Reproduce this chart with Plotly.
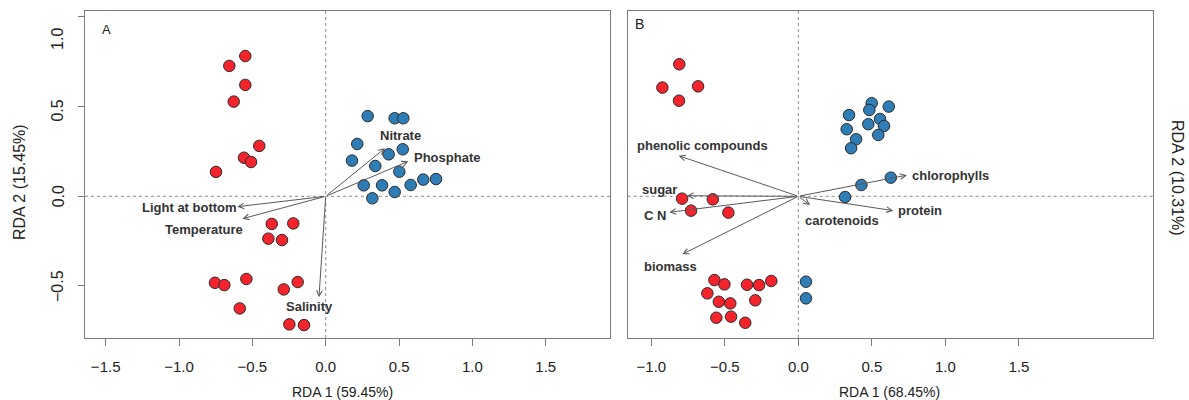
import plotly.graph_objects as go

# ---------------- Panel A: site scores and environmental vectors ----------------
a_red_x = [-0.548, -0.657, -0.548, -0.627, -0.453, -0.557, -0.509, -0.748,
           -0.368, -0.221, -0.391, -0.298, -0.755, -0.691, -0.541, -0.191,
           -0.286, -0.586, -0.248, -0.148]
a_red_y = [0.782, 0.727, 0.621, 0.528, 0.281, 0.215, 0.191, 0.136,
           -0.154, -0.151, -0.236, -0.244, -0.482, -0.495, -0.461, -0.478,
           -0.519, -0.625, -0.714, -0.718]
a_blue_x = [0.286, 0.470, 0.529, 0.215, 0.179, 0.525, 0.429, 0.338,
            0.502, 0.259, 0.384, 0.470, 0.579, 0.665, 0.752, 0.318]
a_blue_y = [0.447, 0.435, 0.435, 0.292, 0.199, 0.262, 0.234, 0.169,
            0.137, 0.061, 0.061, 0.024, 0.063, 0.093, 0.096, -0.011]
a_vec_names = ["Nitrate", "Phosphate", "Light at bottom", "Temperature", "Salinity"]
a_vec_x = [0.404, 0.563, -0.603, -0.568, -0.046]
a_vec_y = [0.268, 0.195, -0.058, -0.125, -0.563]

# ---------------- Panel B: site scores and biochemical vectors ----------------
b_red_x = [-0.810, -0.925, -0.682, -0.812, -0.791, -0.582, -0.730, -0.476,
           -0.571, -0.503, -0.349, -0.267, -0.184, -0.619, -0.541, -0.463,
           -0.293, -0.558, -0.458, -0.361]
b_red_y = [0.736, 0.606, 0.613, 0.533, -0.013, -0.017, -0.080, -0.091,
           -0.467, -0.491, -0.493, -0.495, -0.472, -0.541, -0.588, -0.597,
           -0.580, -0.677, -0.671, -0.705]
b_blue_x = [0.499, 0.483, 0.615, 0.345, 0.556, 0.476, 0.583, 0.329,
            0.544, 0.393, 0.359, 0.318, 0.429, 0.629, 0.052, 0.052]
b_blue_y = [0.519, 0.481, 0.500, 0.453, 0.431, 0.402, 0.392, 0.374,
            0.342, 0.318, 0.268, -0.004, 0.063, 0.104, -0.476, -0.569]
b_vec_names = ["phenolic compounds", "sugar", "C N", "biomass",
               "carotenoids", "protein", "chlorophylls"]
b_vec_x = [-0.814, -0.759, -0.878, -0.789, 0.080, 0.646, 0.739]
b_vec_y = [0.226, 0.003, -0.089, -0.323, -0.049, -0.080, 0.118]

# axis tick values and titles
a_xticks = [-1.5, -1.0, -0.5, 0.0, 0.5, 1.0, 1.5]
a_yticks = [-0.5, 0.0, 0.5, 1.0]
a_ytick_text = ["\u22120.5", "0.0", "0.5", "1.0"]
b_xticks = [-1.0, -0.5, 0.0, 0.5, 1.0, 1.5]
a_xtitle, a_ytitle = "RDA 1 (59.45%)", "RDA 2 (15.45%)"
b_xtitle, b_ytitle = "RDA 1 (68.45%)", "RDA 2 (10.31%)"

# ---------------- styling ----------------
W, H = 1189, 400
FONT = "Liberation Sans, Arial, Helvetica, sans-serif"
RED, BLUE, EDGE = "#F5232B", "#2E7DB6", "#2b2b2b"
BOX, ARROW, TXT = "#7a7a7a", "#5a5a5a", "#222222"

# pixel offsets of each vector label from its arrow tip (right, up)
a_lab_shift = [(16, 13), (39, 4), (-48, -1), (-38, -11), (-9, -9)]
b_lab_shift = [(24, 10), (-27, 6), (-14, -3), (-12, -12), (32, -15), (27, 0), (44, 0)]
# vertical nudge (px) of the rotated y tick labels of panel A
a_ytick_nudge = [0, 0, -4, -22]

fig = go.Figure()

def points(x, y, color, xa, ya):
    fig.add_trace(go.Scatter(
        x=x, y=y, mode="markers", xaxis=xa, yaxis=ya, showlegend=False,
        marker=dict(size=11.5, color=color, line=dict(color=EDGE, width=1)),
        hoverinfo="skip"))

points(a_red_x, a_red_y, RED, "x", "y")
points(a_blue_x, a_blue_y, BLUE, "x", "y")
points(b_red_x, b_red_y, RED, "x2", "y2")
points(b_blue_x, b_blue_y, BLUE, "x2", "y2")

annotations = []
shapes = []

def vectors(names, vx, vy, shifts, xr, yr):
    for name, x, y, (dx, dy) in zip(names, vx, vy, shifts):
        annotations.append(dict(
            x=x, y=y, ax=0, ay=0, xref=xr, yref=yr, axref=xr, ayref=yr,
            text="", showarrow=True, arrowhead=5, arrowsize=1.1,
            arrowwidth=1, arrowcolor=ARROW, standoff=0, startstandoff=0))
        annotations.append(dict(
            x=x, y=y, xref=xr, yref=yr, text="<b>%s</b>" % name,
            showarrow=False, xshift=dx, yshift=dy,
            xanchor="center", yanchor="middle",
            font=dict(family=FONT, size=13, color="#333333")))

vectors(a_vec_names, a_vec_x, a_vec_y, a_lab_shift, "x", "y")
vectors(b_vec_names, b_vec_x, b_vec_y, b_lab_shift, "x2", "y2")

# rotated y tick labels of panel A
for v, t, dy in zip(a_yticks, a_ytick_text, a_ytick_nudge):
    annotations.append(dict(
        x=58 / W, y=v, xref="paper", yref="y", text=t, textangle=-90,
        showarrow=False, xanchor="center", yanchor="middle", yshift=dy,
        font=dict(family=FONT, size=16, color=TXT)))

# dotted reference lines through the origin
for xr, yr in (("x", "y"), ("x2", "y2")):
    dot = dict(color="#8a8a8a", width=1, dash="dot")
    shapes.append(dict(type="line", xref=xr, yref=yr + " domain",
                       x0=0, x1=0, y0=0, y1=1, line=dot, layer="below"))
    shapes.append(dict(type="line", xref=xr + " domain", yref=yr,
                       x0=0, x1=1, y0=0, y1=0, line=dot, layer="below"))

def paper_text(text, px, py, size, angle=0):
    annotations.append(dict(
        text=text, x=px / W, y=1 - py / H, xref="paper", yref="paper",
        xanchor="center", yanchor="middle", textangle=angle, showarrow=False,
        font=dict(family=FONT, size=size, color=TXT)))

# panel letters and axis titles
paper_text("A", 106, 29, 13)
paper_text("B", 639, 24, 14)
paper_text(a_xtitle, 342, 392, 14)
paper_text(b_xtitle, 889, 392, 14)
paper_text(a_ytitle, 19, 182, 16, -90)
paper_text(b_ytitle, 1178, 178, 16, 90)

y_dom = [1 - 338 / H, 1 - 11 / H]
y_rng = [-0.790, 1.033]
common = dict(showgrid=False, zeroline=False, showline=True, mirror=True,
              linecolor=BOX, linewidth=1, tickcolor=BOX, automargin=False,
              tickfont=dict(family=FONT, size=15, color=TXT))

fig.update_layout(
    width=W, height=H, margin=dict(l=0, r=0, t=0, b=0, pad=0, autoexpand=False),
    paper_bgcolor="white", plot_bgcolor="white",
    xaxis=dict(domain=[85 / W, 610 / W], range=[-1.641, 1.938], anchor="y",
               tickvals=a_xticks, tickformat=".1f", ticks="outside", ticklen=7,
               ticklabelstandoff=8, **common),
    yaxis=dict(domain=y_dom, range=y_rng, anchor="x",
               tickvals=a_yticks, ticks="outside", ticklen=6,
               showticklabels=False, **common),
    xaxis2=dict(domain=[627.7 / W, 1153.3 / W], range=[-1.161, 2.415], anchor="y2",
                tickvals=b_xticks, tickformat=".1f", ticks="outside", ticklen=7,
                ticklabelstandoff=8, **common),
    yaxis2=dict(domain=y_dom, range=y_rng, anchor="x2",
                showticklabels=False, ticks="", **common),
    annotations=annotations, shapes=shapes,
)

fig.write_html("out.html")
